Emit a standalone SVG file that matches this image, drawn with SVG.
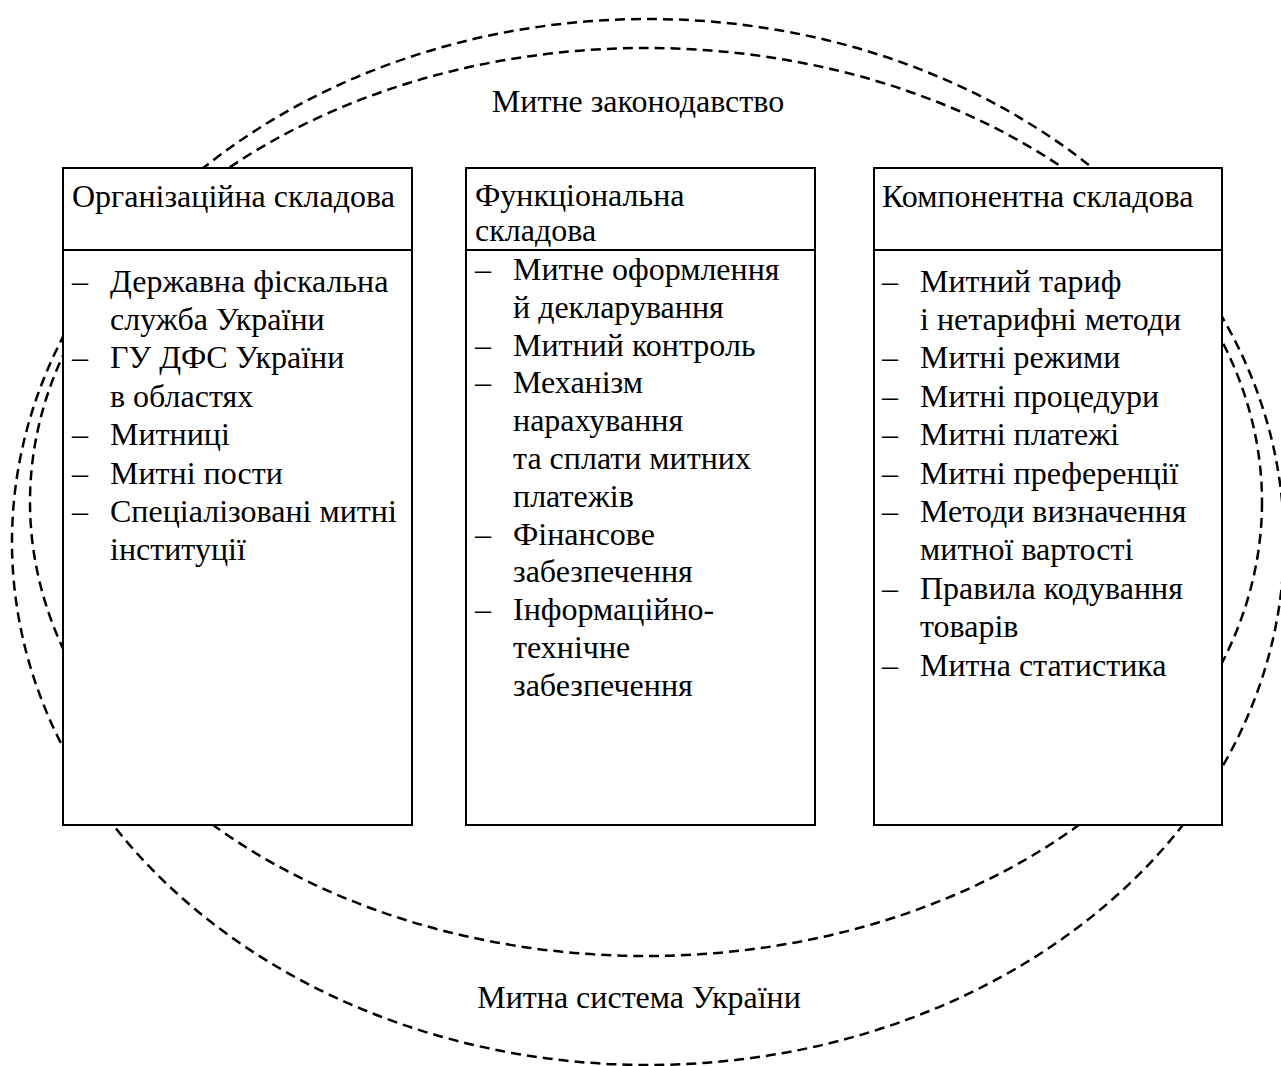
<svg xmlns="http://www.w3.org/2000/svg" width="1281" height="1066" viewBox="0 0 1281 1066">
<style>
.bg{fill:#fff}
.ring{fill:none;stroke:#000;stroke-width:2.5;stroke-dasharray:10 6}
.box{fill:#fff;stroke:#000;stroke-width:2}
.sep{stroke:#000;stroke-width:2}
text{font-family:"Liberation Serif","Times New Roman",serif;font-size:32px;fill:#000}
.c{text-anchor:middle}
</style>
<rect class="bg" x="0" y="0" width="1281" height="1066"/>
<g id="boundaries">
<ellipse class="ring" cx="648" cy="542" rx="636" ry="523"/>
<ellipse class="ring" cx="646" cy="502" rx="616" ry="454"/>
</g>
<g id="label-law"><text class="c" x="638" y="112">Митне законодавство</text></g>
<g id="label-system"><text class="c" x="639" y="1008">Митна система України</text></g>
<g id="node-org">
<rect class="box" x="63" y="168" width="349" height="657"/>
<line class="sep" x1="63" y1="250" x2="412" y2="250"/>
<text x="72" y="207">Організаційна складова</text>
<text x="72" y="291.5">–</text><text x="110" y="291.5">Державна фіскальна</text>
<text x="110" y="329.9">служба України</text>
<text x="72" y="368.3">–</text><text x="110" y="368.3">ГУ ДФС України</text>
<text x="110" y="406.7">в областях</text>
<text x="72" y="445.1">–</text><text x="110" y="445.1">Митниці</text>
<text x="72" y="483.5">–</text><text x="110" y="483.5">Митні пости</text>
<text x="72" y="521.9">–</text><text x="110" y="521.9">Спеціалізовані митні</text>
<text x="110" y="560.3">інституції</text>
</g>
<g id="node-func">
<rect class="box" x="466" y="168" width="349" height="657"/>
<line class="sep" x1="466" y1="250" x2="815" y2="250"/>
<text x="475" y="206">Функціональна</text>
<text x="475" y="241">складова</text>
<text x="475" y="280">–</text><text x="513" y="280">Митне оформлення</text>
<text x="513" y="317.8">й декларування</text>
<text x="475" y="355.6">–</text><text x="513" y="355.6">Митний контроль</text>
<text x="475" y="393.4">–</text><text x="513" y="393.4">Механізм</text>
<text x="513" y="431.2">нарахування</text>
<text x="513" y="469">та сплати митних</text>
<text x="513" y="506.8">платежів</text>
<text x="475" y="544.6">–</text><text x="513" y="544.6">Фінансове</text>
<text x="513" y="582.4">забезпечення</text>
<text x="475" y="620.2">–</text><text x="513" y="620.2">Інформаційно-</text>
<text x="513" y="658">технічне</text>
<text x="513" y="695.8">забезпечення</text>
</g>
<g id="node-comp">
<rect class="box" x="874" y="168" width="348" height="657"/>
<line class="sep" x1="874" y1="250" x2="1222" y2="250"/>
<text x="882" y="207">Компонентна складова</text>
<text x="882" y="291.5">–</text><text x="920" y="291.5">Митний тариф</text>
<text x="920" y="329.9">і нетарифні методи</text>
<text x="882" y="368.3">–</text><text x="920" y="368.3">Митні режими</text>
<text x="882" y="406.7">–</text><text x="920" y="406.7">Митні процедури</text>
<text x="882" y="445.1">–</text><text x="920" y="445.1">Митні платежі</text>
<text x="882" y="483.5">–</text><text x="920" y="483.5">Митні преференції</text>
<text x="882" y="521.9">–</text><text x="920" y="521.9">Методи визначення</text>
<text x="920" y="560.3">митної вартості</text>
<text x="882" y="598.7">–</text><text x="920" y="598.7">Правила кодування</text>
<text x="920" y="637.1">товарів</text>
<text x="882" y="675.5">–</text><text x="920" y="675.5">Митна статистика</text>
</g>
</svg>
